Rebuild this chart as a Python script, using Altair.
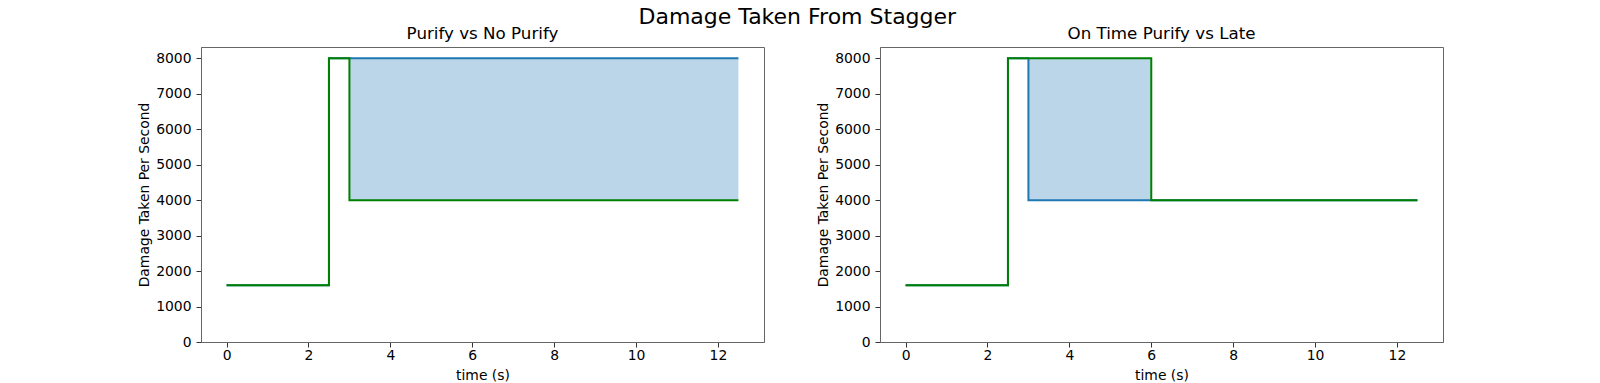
import altair as alt
import pandas as pd

# ---- data ----
# Left panel: "Purify vs No Purify"
left_blue_time = [0, 2.5, 12.5]
left_blue_dps = [1600, 8000, 8000]
left_green_time = [0, 2.5, 3, 12.5]
left_green_dps = [1600, 8000, 4000, 4000]
left_fill_time = [3, 12.5]
left_fill_low = [4000, 4000]
left_fill_high = [8000, 8000]

# Right panel: "On Time Purify vs Late"
right_blue_time = [0, 2.5, 3, 12.5]
right_blue_dps = [1600, 8000, 4000, 4000]
right_green_time = [0, 2.5, 6, 12.5]
right_green_dps = [1600, 8000, 4000, 4000]
right_fill_time = [3, 6]
right_fill_low = [4000, 4000]
right_fill_high = [8000, 8000]

x_ticks = [0, 2, 4, 6, 8, 10, 12]
y_ticks = [0, 1000, 2000, 3000, 4000, 5000, 6000, 7000, 8000]

BLUE = "#1f77b4"
GREEN = "#008000"
FONT = "DejaVu Sans"


def panel(title, bt, bv, gt, gv, ft, flo, fhi):
    x = alt.X("t:Q",
              scale=alt.Scale(domain=[-0.625, 13.125], nice=False, zero=False),
              axis=alt.Axis(values=x_ticks, title="time (s)", format="d"))
    y = alt.Y("v:Q",
              scale=alt.Scale(domain=[0, 8320], nice=False),
              axis=alt.Axis(values=y_ticks, title="Damage Taken Per Second", format="d"))
    fill = alt.Chart(pd.DataFrame({"t": ft, "v": flo, "v2": fhi})).mark_area(
        color=BLUE, opacity=0.3).encode(x=x, y=y, y2="v2:Q")
    blue = alt.Chart(pd.DataFrame({"t": bt, "v": bv})).mark_line(
        color=BLUE, strokeWidth=2, interpolate="step-after").encode(x=x, y=y)
    green = alt.Chart(pd.DataFrame({"t": gt, "v": gv})).mark_line(
        color=GREEN, strokeWidth=2, interpolate="step-after").encode(x=x, y=y)
    return alt.layer(fill, blue, green).properties(
        width=563, height=295,
        title=alt.TitleParams(title, fontSize=16.7, font=FONT, fontWeight="normal",
                              color="black", anchor="middle", offset=4))


left = panel("Purify vs No Purify", left_blue_time, left_blue_dps,
             left_green_time, left_green_dps, left_fill_time, left_fill_low, left_fill_high)
right = panel("On Time Purify vs Late", right_blue_time, right_blue_dps,
              right_green_time, right_green_dps, right_fill_time, right_fill_low, right_fill_high)

chart = alt.hconcat(left, right, spacing=51).properties(
    title=alt.TitleParams("Damage Taken From Stagger", fontSize=22, font=FONT,
                          fontWeight="normal", color="black", anchor="middle", dx=7, offset=-3),
    padding={"left": 137, "top": 5, "right": 5, "bottom": 0},
).configure_view(
    stroke="#666", strokeWidth=1
).configure_axis(
    grid=False, labelFont=FONT, titleFont=FONT, labelFontSize=13.9, titleFontSize=13.9,
    titleFontWeight="normal", labelColor="black", titleColor="black",
    tickColor="#333", domainColor="#666", tickSize=5
).configure_axisY(
    labelPadding=5, titlePadding=4
).configure_axisX(
    labelPadding=1, titlePadding=7
)

chart.save("out.html", embed_options={"renderer": "svg", "actions": False})
